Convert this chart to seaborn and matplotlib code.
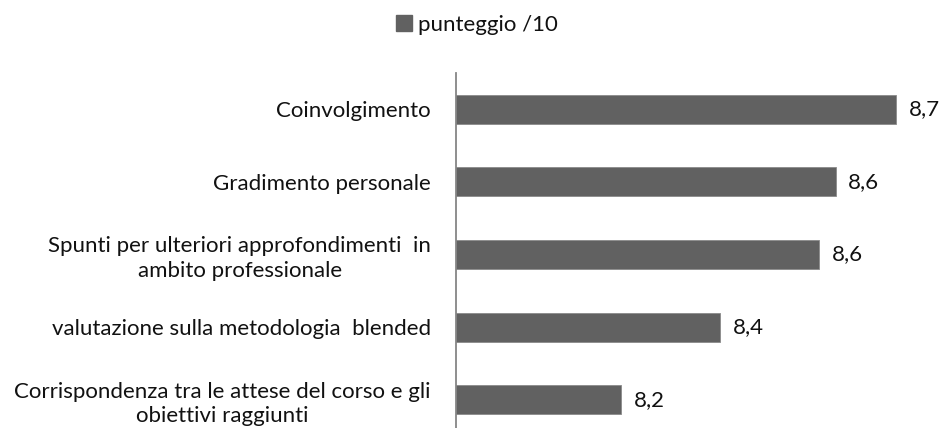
import matplotlib
matplotlib.use("Agg")
import matplotlib.pyplot as plt
from matplotlib.patches import Patch
import seaborn as sns
import pandas as pd

# dati
categorie = [
    "Coinvolgimento",
    "Gradimento personale",
    "Spunti per ulteriori approfondimenti  in\nambito professionale",
    "valutazione sulla metodologia  blended",
    "Corrispondenza tra le attese del corso e gli\nobiettivi raggiunti",
]
punteggi = [8.70, 8.59, 8.56, 8.38, 8.20]
serie = "punteggio /10"

df = pd.DataFrame({"categoria": categorie, "punteggio": punteggi})

sns.set_theme(style="white")
plt.rcParams["font.family"] = ["Lato", "DejaVu Sans"]

fig = plt.figure(figsize=(9.4, 4.28), dpi=100)
ax = fig.add_axes([456 / 940, 0.0, 1 - 456 / 940, (428 - 73) / 428])

bar_col = "#616161"
sns.barplot(data=df, x="punteggio", y="categoria", orient="h", color=bar_col,
            width=0.4, edgecolor="#8a8a8a", linewidth=0.6, saturation=1, ax=ax)

ax.set_xlim(7.9, 7.9 + 484 / 550)
ax.set_ylim(4.39, -0.5)
ax.set_xlabel("")
ax.set_ylabel("")
ax.set_xticks([])
for s in ["top", "right", "bottom"]:
    ax.spines[s].set_visible(False)
ax.spines["left"].set_color("#868686")
ax.spines["left"].set_linewidth(1.3)

fs = 16
ax.tick_params(axis="y", length=0, pad=18, labelsize=fs, labelcolor="#111111")
for t in ax.get_yticklabels():
    t.set_multialignment("center")
    t.set_linespacing(1.3)

for c in ax.containers:
    ax.bar_label(c, labels=[f"{v:.1f}".replace(".", ",") for v in punteggi],
                 padding=9, fontsize=fs, color="#111111")

fig.legend(handles=[Patch(facecolor=bar_col, edgecolor=bar_col)], labels=[serie],
           loc="center", bbox_to_anchor=(477 / 940, 1 - 25 / 428), frameon=False,
           fontsize=fs, handlelength=0.7, handleheight=0.7, handletextpad=0.3,
           labelcolor="#111111")

fig.savefig("out.png", dpi=100)
